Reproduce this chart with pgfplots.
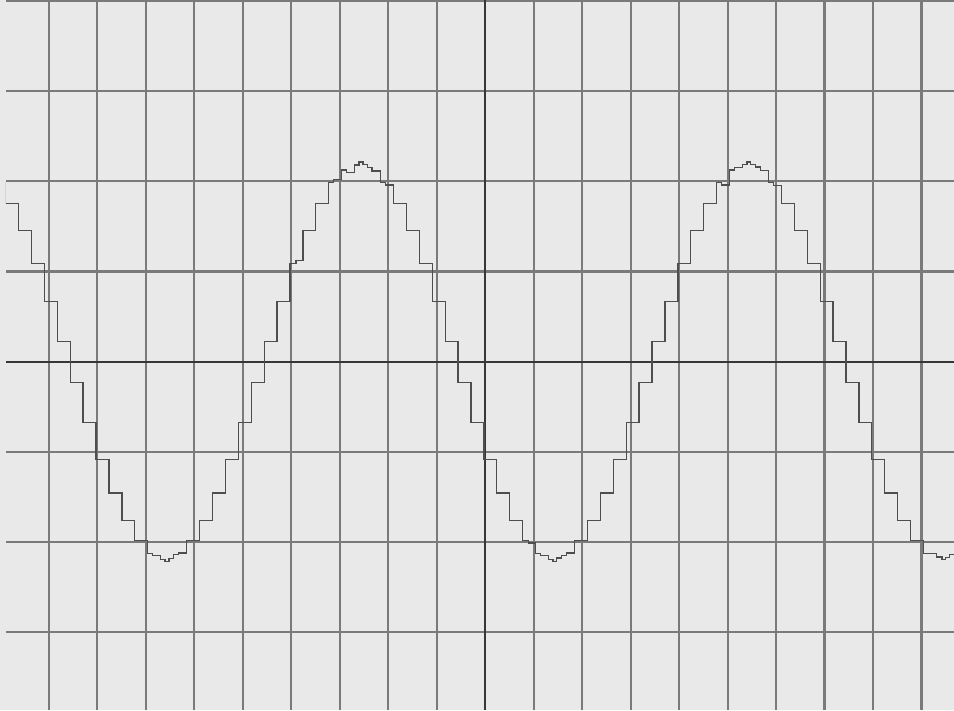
\documentclass[border=0pt]{standalone}
\usepackage{pgfplots}
\pgfplotsset{compat=1.18}
\usepackage{pgfplotstable}

\definecolor{screenbg}{RGB}{233,233,233}
\definecolor{gridc}{RGB}{122,122,122}
\definecolor{axisc}{RGB}{55,55,55}
\definecolor{tracec}{RGB}{78,78,78}

% sampled-and-held sine trace, in screen divisions
\pgfplotstableread{
x y
-10.157 1.985
-9.890 1.758
-9.624 1.454
-9.357 1.087
-9.090 0.671
-8.824 0.227
-8.557 -0.227
-8.290 -0.671
-8.024 -1.087
-7.757 -1.454
-7.490 -1.758
-7.224 -1.985
-6.957 -2.125
-6.860 -2.150
-6.690 -2.190
-6.600 -2.215
-6.520 -2.180
-6.424 -2.140
-6.330 -2.120
-6.157 -1.985
-5.890 -1.758
-5.624 -1.454
-5.357 -1.087
-5.090 -0.671
-4.824 -0.227
-4.557 0.227
-4.290 0.671
-4.024 1.087
-3.900 1.120
-3.757 1.454
-3.490 1.758
-3.224 1.985
-3.120 2.020
-2.957 2.125
-2.860 2.100
-2.690 2.180
-2.600 2.215
-2.520 2.190
-2.424 2.150
-2.330 2.115
-2.157 1.985
-2.050 1.960
-1.890 1.758
-1.624 1.454
-1.357 1.087
-1.090 0.671
-0.824 0.227
-0.557 -0.227
-0.290 -0.671
-0.024 -1.087
0.243 -1.454
0.510 -1.758
0.776 -1.985
0.900 -2.010
1.043 -2.125
1.150 -2.150
1.310 -2.190
1.400 -2.215
1.480 -2.175
1.576 -2.150
1.680 -2.120
1.843 -1.985
2.110 -1.758
2.376 -1.454
2.643 -1.087
2.910 -0.671
3.176 -0.227
3.443 0.227
3.710 0.671
3.976 1.087
4.243 1.454
4.510 1.758
4.776 1.985
4.880 1.960
5.043 2.125
5.150 2.150
5.310 2.185
5.400 2.215
5.480 2.185
5.576 2.160
5.680 2.120
5.843 1.985
5.950 1.955
6.110 1.758
6.376 1.454
6.643 1.087
6.910 0.671
7.176 0.227
7.443 -0.227
7.710 -0.671
7.976 -1.087
8.243 -1.454
8.510 -1.758
8.776 -1.985
9.043 -2.125
9.310 -2.165
9.420 -2.195
9.500 -2.170
9.576 -2.140
9.700 -2.140
}\tracedata

\begin{document}
\begin{tikzpicture}
\useasboundingbox (0,0) rectangle (19.08cm,14.2cm);
\fill[screenbg] (0,0) rectangle (19.08cm,14.2cm);
\begin{axis}[
  at={(0.12cm,0cm)}, anchor=south west,
  scale only axis,
  width=18.96cm, height=14.2cm,
  xmin=-9.88, xmax=9.67,
  ymin=-3.86, ymax=4.01,
  axis line style={draw=none},
  tick style={draw=none},
  axis background/.style={fill=screenbg},
  xtick={-9,-8,-7,-6,-5,-4,-3,-2,-1,1,2,3,4,5,6,7,8,9},
  ytick={-3,-2,-1,1,2,3,4},
  xticklabels={}, yticklabels={},
  xmajorgrids=true, ymajorgrids=true,
  major grid style={color=gridc, line width=1.2pt},
  extra x ticks={0}, extra y ticks={0},
  extra x tick labels={}, extra y tick labels={},
  extra tick style={xmajorgrids=true, ymajorgrids=true,
    major grid style={color=axisc, line width=1.2pt}},
  clip=true,
]
\addplot[const plot, color=tracec, line width=0.7pt] table[x=x, y=y] {\tracedata};
\end{axis}
\end{tikzpicture}
\end{document}
